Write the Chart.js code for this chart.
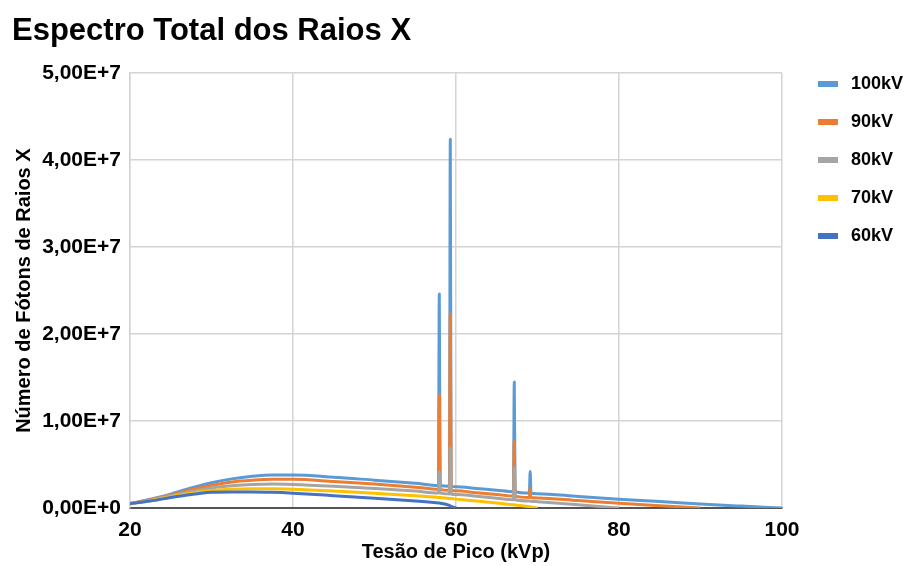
<!DOCTYPE html>
<html>
<head>
<meta charset="utf-8">
<script src="https://cdn.jsdelivr.net/npm/chart.js@4/dist/chart.umd.min.js"></script>
<style>
  html, body { margin: 0; padding: 0; background: #fff; }
</style>
</head>
<body>
<canvas id="spectrumChart" width="908" height="566"></canvas>
<script>
// energia (keV) - continuum plus narrow points around the characteristic lines
const energies = [20, 22.5, 25, 27.5, 30, 32.5, 35, 37.5, 40, 45, 50, 55,
  57.85, 57.95, 58.05, 59.2, 59.3, 59.4, 60, 62.5, 65,
  67.05, 67.15, 67.25, 69, 69.1, 69.2, 70, 75, 80, 85, 90, 95, 100];

const kv100 = [0.5e6, 1.0e6, 1.6e6, 2.3e6, 2.9e6, 3.35e6, 3.65e6, 3.8e6, 3.8e6, 3.55e6, 3.2e6, 2.85e6,
  2.6e6, 24.6e6, 2.59e6, 2.5e6, 42.4e6, 2.49e6, 2.45e6, 2.25e6, 2.05e6,
  1.88e6, 14.5e6, 1.87e6, 1.72e6, 4.2e6, 1.71e6, 1.65e6, 1.32e6, 1.0e6, 0.75e6, 0.46e6, 0.22e6, 0];
const kv90 = [0.5e6, 0.95e6, 1.5e6, 2.1e6, 2.6e6, 3.0e6, 3.2e6, 3.3e6, 3.3e6, 3.05e6, 2.75e6, 2.4e6,
  2.15e6, 13.0e6, 2.14e6, 2.03e6, 22.3e6, 2.02e6, 1.97e6, 1.75e6, 1.55e6,
  1.38e6, 7.7e6, 1.37e6, 1.22e6, 2.3e6, 1.21e6, 1.15e6, 0.85e6, 0.55e6, 0.27e6, 0, null, null];
const kv80 = [0.5e6, 0.9e6, 1.4e6, 1.9e6, 2.3e6, 2.55e6, 2.7e6, 2.75e6, 2.7e6, 2.5e6, 2.25e6, 1.95e6,
  1.72e6, 4.2e6, 1.71e6, 1.62e6, 6.9e6, 1.61e6, 1.55e6, 1.35e6, 1.12e6,
  0.95e6, 4.7e6, 0.94e6, 0.8e6, 0.79e6, 0.78e6, 0.72e6, 0.37e6, 0, null, null, null, null];
const kv70 = [0.5e6, 0.85e6, 1.3e6, 1.7e6, 2.0e6, 2.15e6, 2.2e6, 2.2e6, 2.15e6, 1.95e6, 1.7e6, 1.42e6,
  1.22e6, 1.21e6, 1.2e6, 1.1e6, 1.09e6, 1.08e6, 1.02e6, 0.8e6, 0.57e6,
  0.37e6, 0.36e6, 0.35e6, 0.15e6, 0.14e6, 0.13e6, 0, null, null, null, null, null, null];
const kv60 = [0.5e6, 0.8e6, 1.2e6, 1.55e6, 1.8e6, 1.85e6, 1.85e6, 1.8e6, 1.7e6, 1.42e6, 1.12e6, 0.8e6,
  0.58e6, 0.57e6, 0.56e6, 0.3e6, 0.25e6, 0.2e6, 0, null, null,
  null, null, null, null, null, null, null, null, null, null, null, null, null];

const seriesNames = ['100kV', '90kV', '80kV', '70kV', '60kV'];
const seriesValues = [kv100, kv90, kv80, kv70, kv60];
const seriesColors = ['#5b9bd5', '#ed7d31', '#a5a5a5', '#ffc000', '#4472c4'];

// legend swatch: short thick bar with some room on the left
function swatch(color) {
    const c = document.createElement('canvas');
    c.width = 40;
    c.height = 6;
    const g = c.getContext('2d');
    g.fillStyle = color;
    g.fillRect(16, 0, 20, 6);
    return c;
}

Chart.defaults.font.family = "'Liberation Sans', Arial, sans-serif";
Chart.defaults.color = '#000';

const datasets = seriesNames.map((name, i) => ({
    label: name,
    data: energies.map((e, j) => ({ x: e, y: seriesValues[i][j] })),
    borderColor: seriesColors[i],
    backgroundColor: seriesColors[i],
    borderWidth: 3,
    pointRadius: 0,
    pointStyle: swatch(seriesColors[i]),
    cubicInterpolationMode: 'monotone',
    borderJoinStyle: 'round',
    spanGaps: false,
    order: seriesNames.length - i
}));

const ctx = document.getElementById('spectrumChart').getContext('2d');

window.spectrumChart = new Chart(ctx, {
    type: 'line',
    data: { datasets: datasets },
    options: {
        responsive: false,
        animation: false,
        layout: { padding: { left: 12, right: 0, top: 0, bottom: 0 } },
        plugins: {
            title: {
                display: true,
                text: 'Espectro Total dos Raios X',
                align: 'start',
                font: { size: 31, weight: 'bold' },
                padding: { top: 13, bottom: 23 }
            },
            legend: {
                position: 'right',
                align: 'start',
                maxWidth: 126,
                title: { display: true, text: '', font: { size: 10 }, padding: { top: 43, bottom: 0 } },
                labels: {
                    usePointStyle: true,
                    pointStyleWidth: 40,
                    padding: 20,
                    font: { size: 18, weight: 'bold' },
                    sort: (a, b) => a.datasetIndex - b.datasetIndex
                }
            },
            tooltip: { enabled: false }
        },
        scales: {
            x: {
                type: 'linear',
                min: 20,
                max: 100,
                afterFit: (s) => { s.height = 58; },
                ticks: { stepSize: 20, padding: 10, font: { size: 21, weight: 'bold' } },
                grid: { color: '#d4d4d4', lineWidth: 1.5, drawTicks: false },
                border: { color: '#555', width: 2 },
                title: {
                    display: true,
                    text: 'Tesão de Pico (kVp)',
                    font: { size: 20, weight: 'bold' },
                    padding: { top: 0, bottom: 2 }
                }
            },
            y: {
                min: 0,
                max: 5e7,
                afterFit: (s) => { s.width = 118; },
                ticks: {
                    stepSize: 1e7,
                    padding: 9,
                    font: { size: 21, weight: 'bold' },
                    callback: (v) => v === 0 ? '0,00E+0' : (v / 1e7).toFixed(2).replace('.', ',') + 'E+7'
                },
                grid: { color: '#d4d4d4', lineWidth: 1.5, drawTicks: false },
                border: { color: '#d4d4d4', width: 1.5 },
                title: {
                    display: true,
                    text: 'Número de Fótons de Raios X',
                    font: { size: 20, weight: 'bold' },
                    padding: { top: 0, bottom: 0 }
                }
            }
        }
    }
});
</script>
</body>
</html>
